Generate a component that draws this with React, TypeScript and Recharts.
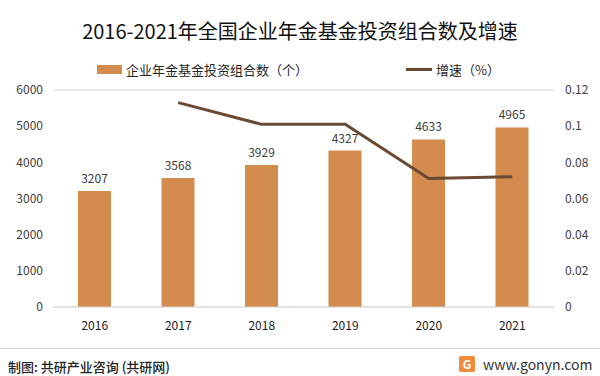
import { ComposedChart, Bar, Line, XAxis, YAxis, CartesianGrid, LabelList } from "recharts";

const years = ["2016", "2017", "2018", "2019", "2020", "2021"];
const portfolios = [3207, 3568, 3929, 4327, 4633, 4965];
const growth = [null, 0.113, 0.101, 0.101, 0.071, 0.072];
const leftTicks = [0, 1000, 2000, 3000, 4000, 5000, 6000];
const rightTicks = [0, 0.02, 0.04, 0.06, 0.08, 0.1, 0.12];

const data = years.map((year, i) => ({ year, count: portfolios[i], rate: growth[i] }));

const BAR = "#D38B4E";
const LINE = "#6A4A32";
const FONT = '"Noto Sans CJK SC", "Noto Sans", sans-serif';
const tick = { fill: "#404040", fontSize: 12, fontFamily: FONT };

export default function App() {
  return (
    <div style={{ position: "absolute", left: 0, top: 0, width: 600, height: 376, background: "#fff", fontFamily: FONT, overflow: "hidden" }}>
      <div style={{ position: "absolute", top: 16, width: 600, textAlign: "center", fontSize: 20, color: "#111" }}>
        2016-2021年全国企业年金基金投资组合数及增速
      </div>
      <div style={{ position: "absolute", top: 60, left: 97, display: "flex", alignItems: "center", fontSize: 13, color: "#262626" }}>
        <span style={{ width: 25, height: 9, background: BAR, marginRight: 4 }} />
        企业年金基金投资组合数（个）
      </div>
      <div style={{ position: "absolute", top: 60, left: 406, display: "flex", alignItems: "center", fontSize: 13, color: "#262626" }}>
        <span style={{ width: 26, height: 3, background: LINE, marginRight: 4 }} />
        增速（%）
      </div>
      <ComposedChart width={600} height={376} data={data} margin={{ top: 90, right: 0, bottom: 39, left: 0 }}>
        <CartesianGrid vertical={false} stroke="#D9D9D9" />
        <XAxis dataKey="year" height={30} tick={{ ...tick, fill: "#1a1a1a" }} axisLine={{ stroke: "#D9D9D9" }} tickLine={false} tickMargin={8} />
        <YAxis yAxisId="left" width={53} domain={[0, 6000]} ticks={leftTicks} tick={tick} axisLine={false} tickLine={false} tickMargin={4} />
        <YAxis yAxisId="right" orientation="right" width={46} domain={[0, 0.12]} ticks={rightTicks} tick={tick} axisLine={false} tickLine={false} tickMargin={5} />
        <Bar yAxisId="left" dataKey="count" fill={BAR} barSize={33} isAnimationActive={false}>
          <LabelList dataKey="count" position="top" offset={8} fill="#404040" fontSize={12} fontFamily={FONT} />
        </Bar>
        <Line yAxisId="right" dataKey="rate" stroke={LINE} strokeWidth={3} dot={false} isAnimationActive={false} connectNulls />
      </ComposedChart>
      <div style={{ position: "absolute", top: 348, left: 0, width: 600, height: 1, background: "#D9D9D9" }} />
      <div style={{ position: "absolute", top: 357, left: 8, fontSize: 13, color: "#222", fontWeight: 500 }}>制图: 共研产业咨询 (共研网)</div>
      <div style={{ position: "absolute", top: 354, left: 459, display: "flex", alignItems: "center", fontSize: 14, color: "#333" }}>
        <span style={{ width: 16, height: 16, background: "#F08A3C", color: "#fff", fontSize: 12, fontWeight: 700, textAlign: "center", lineHeight: "16px", marginRight: 8, borderRadius: 2 }}>G</span>
        www.gonyn.com
      </div>
    </div>
  );
}
